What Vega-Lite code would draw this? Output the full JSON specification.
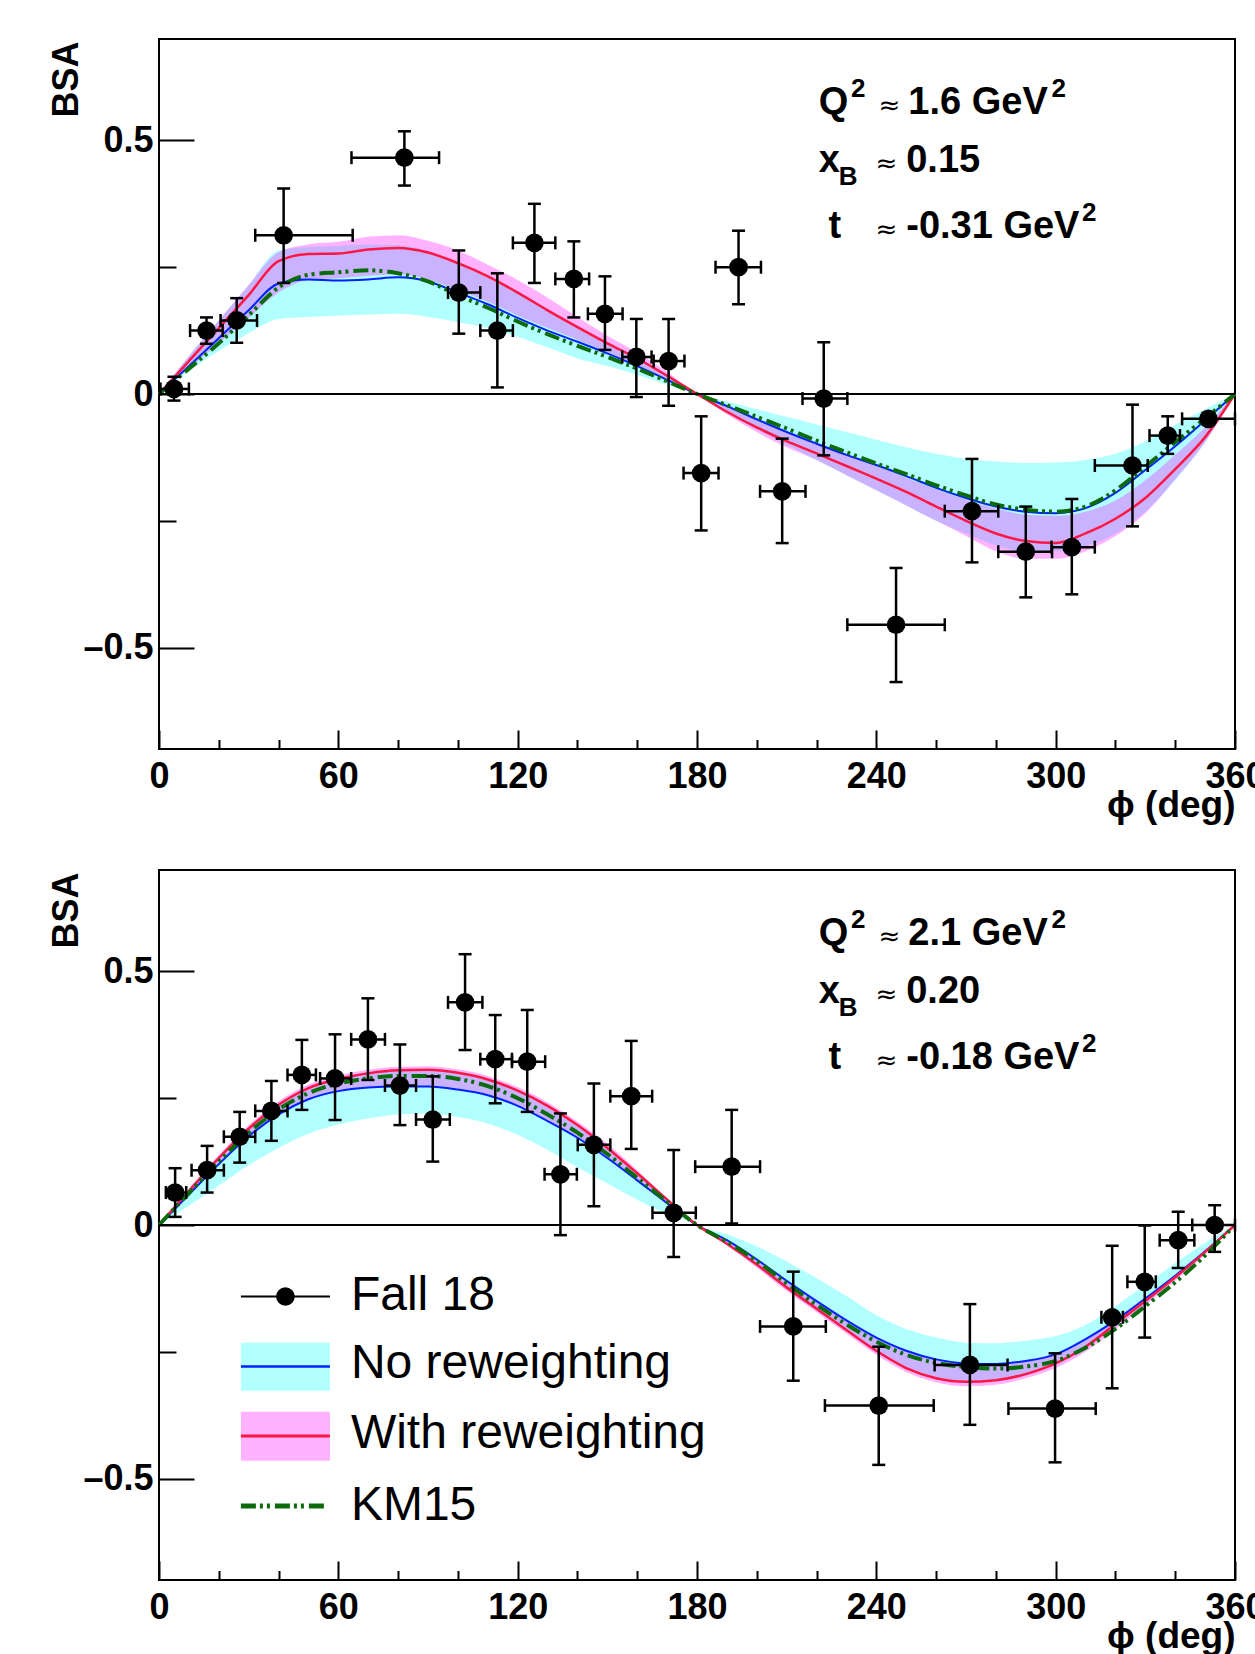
{
  "$schema": "https://vega.github.io/schema/vega-lite/v6.json",
  "background": "white",
  "padding": {"left": 47, "top": 38, "right": 5, "bottom": 5},
  "spacing": 121,
  "bounds": "flush",
  "config": {
    "view": {"stroke": "black", "strokeWidth": 2},
    "font": "Liberation Sans",
    "axis": {"grid": false, "domain": false}
  },
  "datasets": {
    "top_curves": [
      {"phi": 0, "blue": 0, "red": 0, "green": 0, "c_lo": 0, "c_hi": 0, "m_lo": 0, "m_hi": 0},
      {"phi": 10, "blue": 0.055, "red": 0.065, "green": 0.05, "c_lo": 0.045, "c_hi": 0.075, "m_lo": 0.05, "m_hi": 0.075},
      {"phi": 20, "blue": 0.11, "red": 0.13, "green": 0.1, "c_lo": 0.085, "c_hi": 0.145, "m_lo": 0.1, "m_hi": 0.145},
      {"phi": 30, "blue": 0.165, "red": 0.195, "green": 0.155, "c_lo": 0.12, "c_hi": 0.215, "m_lo": 0.15, "m_hi": 0.215},
      {"phi": 40, "blue": 0.218, "red": 0.262, "green": 0.21, "c_lo": 0.148, "c_hi": 0.283, "m_lo": 0.2, "m_hi": 0.28},
      {"phi": 50, "blue": 0.226, "red": 0.276, "green": 0.235, "c_lo": 0.152, "c_hi": 0.29, "m_lo": 0.225, "m_hi": 0.295},
      {"phi": 60, "blue": 0.224, "red": 0.277, "green": 0.24, "c_lo": 0.155, "c_hi": 0.292, "m_lo": 0.228, "m_hi": 0.3},
      {"phi": 70, "blue": 0.226, "red": 0.285, "green": 0.244, "c_lo": 0.157, "c_hi": 0.295, "m_lo": 0.233, "m_hi": 0.31},
      {"phi": 80, "blue": 0.23, "red": 0.288, "green": 0.238, "c_lo": 0.158, "c_hi": 0.294, "m_lo": 0.236, "m_hi": 0.313},
      {"phi": 90, "blue": 0.222, "red": 0.279, "green": 0.222, "c_lo": 0.152, "c_hi": 0.282, "m_lo": 0.226, "m_hi": 0.302},
      {"phi": 100, "blue": 0.2, "red": 0.258, "green": 0.195, "c_lo": 0.142, "c_hi": 0.26, "m_lo": 0.205, "m_hi": 0.283},
      {"phi": 110, "blue": 0.177, "red": 0.232, "green": 0.17, "c_lo": 0.13, "c_hi": 0.235, "m_lo": 0.182, "m_hi": 0.255},
      {"phi": 120, "blue": 0.15, "red": 0.2, "green": 0.143, "c_lo": 0.113, "c_hi": 0.203, "m_lo": 0.155, "m_hi": 0.225},
      {"phi": 130, "blue": 0.125, "red": 0.165, "green": 0.118, "c_lo": 0.092, "c_hi": 0.168, "m_lo": 0.13, "m_hi": 0.19},
      {"phi": 140, "blue": 0.103, "red": 0.132, "green": 0.095, "c_lo": 0.07, "c_hi": 0.135, "m_lo": 0.107, "m_hi": 0.152},
      {"phi": 150, "blue": 0.08, "red": 0.1, "green": 0.073, "c_lo": 0.055, "c_hi": 0.103, "m_lo": 0.083, "m_hi": 0.115},
      {"phi": 160, "blue": 0.055, "red": 0.07, "green": 0.05, "c_lo": 0.038, "c_hi": 0.073, "m_lo": 0.057, "m_hi": 0.082},
      {"phi": 170, "blue": 0.028, "red": 0.036, "green": 0.025, "c_lo": 0.018, "c_hi": 0.038, "m_lo": 0.029, "m_hi": 0.044},
      {"phi": 180, "blue": 0, "red": 0, "green": 0, "c_lo": 0, "c_hi": 0, "m_lo": 0, "m_hi": 0},
      {"phi": 190, "blue": -0.024, "red": -0.035, "green": -0.022, "c_lo": -0.037, "c_hi": -0.015, "m_lo": -0.04, "m_hi": -0.022},
      {"phi": 200, "blue": -0.05, "red": -0.066, "green": -0.045, "c_lo": -0.07, "c_hi": -0.03, "m_lo": -0.075, "m_hi": -0.047},
      {"phi": 210, "blue": -0.075, "red": -0.093, "green": -0.068, "c_lo": -0.1, "c_hi": -0.045, "m_lo": -0.105, "m_hi": -0.073},
      {"phi": 220, "blue": -0.098, "red": -0.117, "green": -0.092, "c_lo": -0.13, "c_hi": -0.06, "m_lo": -0.13, "m_hi": -0.096},
      {"phi": 230, "blue": -0.12, "red": -0.142, "green": -0.115, "c_lo": -0.16, "c_hi": -0.075, "m_lo": -0.16, "m_hi": -0.118},
      {"phi": 240, "blue": -0.14, "red": -0.167, "green": -0.137, "c_lo": -0.19, "c_hi": -0.09, "m_lo": -0.19, "m_hi": -0.142},
      {"phi": 250, "blue": -0.162, "red": -0.193, "green": -0.158, "c_lo": -0.22, "c_hi": -0.105, "m_lo": -0.22, "m_hi": -0.165},
      {"phi": 260, "blue": -0.185, "red": -0.222, "green": -0.18, "c_lo": -0.25, "c_hi": -0.118, "m_lo": -0.25, "m_hi": -0.188},
      {"phi": 270, "blue": -0.205, "red": -0.25, "green": -0.2, "c_lo": -0.275, "c_hi": -0.128, "m_lo": -0.28, "m_hi": -0.208},
      {"phi": 280, "blue": -0.222, "red": -0.275, "green": -0.218, "c_lo": -0.298, "c_hi": -0.133, "m_lo": -0.31, "m_hi": -0.226},
      {"phi": 290, "blue": -0.232, "red": -0.29, "green": -0.228, "c_lo": -0.31, "c_hi": -0.136, "m_lo": -0.325, "m_hi": -0.238},
      {"phi": 300, "blue": -0.235, "red": -0.294, "green": -0.232, "c_lo": -0.31, "c_hi": -0.135, "m_lo": -0.325, "m_hi": -0.24},
      {"phi": 310, "blue": -0.225, "red": -0.275, "green": -0.222, "c_lo": -0.3, "c_hi": -0.13, "m_lo": -0.31, "m_hi": -0.232},
      {"phi": 320, "blue": -0.195, "red": -0.246, "green": -0.19, "c_lo": -0.275, "c_hi": -0.118, "m_lo": -0.28, "m_hi": -0.21},
      {"phi": 330, "blue": -0.15, "red": -0.205, "green": -0.143, "c_lo": -0.232, "c_hi": -0.093, "m_lo": -0.235, "m_hi": -0.17},
      {"phi": 340, "blue": -0.103, "red": -0.148, "green": -0.095, "c_lo": -0.17, "c_hi": -0.06, "m_lo": -0.168, "m_hi": -0.12},
      {"phi": 350, "blue": -0.052, "red": -0.085, "green": -0.048, "c_lo": -0.095, "c_hi": -0.03, "m_lo": -0.095, "m_hi": -0.065},
      {"phi": 360, "blue": 0, "red": 0, "green": 0, "c_lo": 0, "c_hi": 0, "m_lo": 0, "m_hi": 0}
    ],
    "bot_curves": [
      {"phi": 0, "blue": 0, "red": 0, "green": 0, "c_lo": 0, "c_hi": 0, "m_lo": 0, "m_hi": 0},
      {"phi": 10, "blue": 0.06, "red": 0.067, "green": 0.063, "c_lo": 0.038, "c_hi": 0.068, "m_lo": 0.058, "m_hi": 0.072},
      {"phi": 20, "blue": 0.12, "red": 0.132, "green": 0.125, "c_lo": 0.078, "c_hi": 0.133, "m_lo": 0.118, "m_hi": 0.138},
      {"phi": 30, "blue": 0.175, "red": 0.19, "green": 0.182, "c_lo": 0.118, "c_hi": 0.192, "m_lo": 0.172, "m_hi": 0.197},
      {"phi": 40, "blue": 0.218, "red": 0.237, "green": 0.228, "c_lo": 0.152, "c_hi": 0.238, "m_lo": 0.215, "m_hi": 0.244},
      {"phi": 50, "blue": 0.248, "red": 0.27, "green": 0.26, "c_lo": 0.18, "c_hi": 0.27, "m_lo": 0.246, "m_hi": 0.277},
      {"phi": 60, "blue": 0.264, "red": 0.288, "green": 0.279, "c_lo": 0.198, "c_hi": 0.289, "m_lo": 0.263, "m_hi": 0.295},
      {"phi": 70, "blue": 0.271, "red": 0.299, "green": 0.289, "c_lo": 0.21, "c_hi": 0.3, "m_lo": 0.27, "m_hi": 0.306},
      {"phi": 80, "blue": 0.273, "red": 0.305, "green": 0.294, "c_lo": 0.218, "c_hi": 0.305, "m_lo": 0.273, "m_hi": 0.312},
      {"phi": 90, "blue": 0.273, "red": 0.306, "green": 0.294, "c_lo": 0.22, "c_hi": 0.306, "m_lo": 0.273, "m_hi": 0.313},
      {"phi": 100, "blue": 0.267, "red": 0.3, "green": 0.288, "c_lo": 0.213, "c_hi": 0.3, "m_lo": 0.267, "m_hi": 0.307},
      {"phi": 110, "blue": 0.256, "red": 0.287, "green": 0.274, "c_lo": 0.2, "c_hi": 0.287, "m_lo": 0.255, "m_hi": 0.294},
      {"phi": 120, "blue": 0.235, "red": 0.265, "green": 0.25, "c_lo": 0.178, "c_hi": 0.265, "m_lo": 0.234, "m_hi": 0.272},
      {"phi": 130, "blue": 0.205, "red": 0.235, "green": 0.218, "c_lo": 0.148, "c_hi": 0.235, "m_lo": 0.205, "m_hi": 0.242},
      {"phi": 140, "blue": 0.172, "red": 0.197, "green": 0.182, "c_lo": 0.114, "c_hi": 0.197, "m_lo": 0.172, "m_hi": 0.204},
      {"phi": 150, "blue": 0.132, "red": 0.152, "green": 0.14, "c_lo": 0.082, "c_hi": 0.152, "m_lo": 0.132, "m_hi": 0.16},
      {"phi": 160, "blue": 0.088, "red": 0.102, "green": 0.093, "c_lo": 0.05, "c_hi": 0.102, "m_lo": 0.088, "m_hi": 0.108},
      {"phi": 170, "blue": 0.043, "red": 0.05, "green": 0.046, "c_lo": 0.022, "c_hi": 0.05, "m_lo": 0.043, "m_hi": 0.053},
      {"phi": 180, "blue": 0, "red": 0, "green": 0, "c_lo": 0, "c_hi": 0, "m_lo": 0, "m_hi": 0},
      {"phi": 190, "blue": -0.03, "red": -0.037, "green": -0.033, "c_lo": -0.04, "c_hi": -0.018, "m_lo": -0.04, "m_hi": -0.03},
      {"phi": 200, "blue": -0.068, "red": -0.078, "green": -0.071, "c_lo": -0.082, "c_hi": -0.042, "m_lo": -0.084, "m_hi": -0.066},
      {"phi": 210, "blue": -0.11, "red": -0.123, "green": -0.115, "c_lo": -0.127, "c_hi": -0.072, "m_lo": -0.13, "m_hi": -0.108},
      {"phi": 220, "blue": -0.15, "red": -0.165, "green": -0.157, "c_lo": -0.168, "c_hi": -0.105, "m_lo": -0.172, "m_hi": -0.148},
      {"phi": 230, "blue": -0.188, "red": -0.207, "green": -0.196, "c_lo": -0.208, "c_hi": -0.14, "m_lo": -0.214, "m_hi": -0.186},
      {"phi": 240, "blue": -0.222, "red": -0.248, "green": -0.23, "c_lo": -0.25, "c_hi": -0.178, "m_lo": -0.256, "m_hi": -0.22},
      {"phi": 250, "blue": -0.248, "red": -0.282, "green": -0.256, "c_lo": -0.282, "c_hi": -0.205, "m_lo": -0.29, "m_hi": -0.246},
      {"phi": 260, "blue": -0.265, "red": -0.302, "green": -0.272, "c_lo": -0.302, "c_hi": -0.222, "m_lo": -0.31, "m_hi": -0.263},
      {"phi": 270, "blue": -0.273, "red": -0.309, "green": -0.28, "c_lo": -0.31, "c_hi": -0.232, "m_lo": -0.318, "m_hi": -0.271},
      {"phi": 280, "blue": -0.274, "red": -0.306, "green": -0.283, "c_lo": -0.306, "c_hi": -0.233, "m_lo": -0.315, "m_hi": -0.272},
      {"phi": 290, "blue": -0.268, "red": -0.294, "green": -0.279, "c_lo": -0.294, "c_hi": -0.228, "m_lo": -0.302, "m_hi": -0.266},
      {"phi": 300, "blue": -0.255, "red": -0.273, "green": -0.268, "c_lo": -0.275, "c_hi": -0.219, "m_lo": -0.282, "m_hi": -0.253},
      {"phi": 310, "blue": -0.225, "red": -0.24, "green": -0.242, "c_lo": -0.243, "c_hi": -0.197, "m_lo": -0.25, "m_hi": -0.224},
      {"phi": 320, "blue": -0.188, "red": -0.195, "green": -0.205, "c_lo": -0.2, "c_hi": -0.16, "m_lo": -0.205, "m_hi": -0.186},
      {"phi": 330, "blue": -0.145, "red": -0.15, "green": -0.16, "c_lo": -0.155, "c_hi": -0.118, "m_lo": -0.158, "m_hi": -0.143},
      {"phi": 340, "blue": -0.1, "red": -0.103, "green": -0.113, "c_lo": -0.107, "c_hi": -0.075, "m_lo": -0.11, "m_hi": -0.098},
      {"phi": 350, "blue": -0.052, "red": -0.053, "green": -0.06, "c_lo": -0.056, "c_hi": -0.035, "m_lo": -0.058, "m_hi": -0.05},
      {"phi": 360, "blue": 0, "red": 0, "green": 0, "c_lo": 0, "c_hi": 0, "m_lo": 0, "m_hi": 0}
    ],
    "top_pts": [
      {"phi": 5.0, "bsa": 0.01, "ylo": -0.013, "yhi": 0.034, "xlo": 0.5, "xhi": 10.0},
      {"phi": 15.9, "bsa": 0.125, "ylo": 0.099, "yhi": 0.151, "xlo": 10.4, "xhi": 21.3},
      {"phi": 26.0, "bsa": 0.145, "ylo": 0.101, "yhi": 0.189, "xlo": 20.6, "xhi": 32.8},
      {"phi": 41.7, "bsa": 0.313, "ylo": 0.219, "yhi": 0.405, "xlo": 32.2, "xhi": 64.8},
      {"phi": 82.1, "bsa": 0.466, "ylo": 0.411, "yhi": 0.518, "xlo": 64.4, "xhi": 93.7},
      {"phi": 100.3, "bsa": 0.2, "ylo": 0.119, "yhi": 0.283, "xlo": 96.7, "xhi": 107.5},
      {"phi": 113.2, "bsa": 0.125, "ylo": 0.013, "yhi": 0.238, "xlo": 107.5, "xhi": 118.4},
      {"phi": 125.6, "bsa": 0.298, "ylo": 0.219, "yhi": 0.375, "xlo": 118.4, "xhi": 132.6},
      {"phi": 138.8, "bsa": 0.227, "ylo": 0.151, "yhi": 0.301, "xlo": 132.6, "xhi": 143.9},
      {"phi": 149.2, "bsa": 0.158, "ylo": 0.087, "yhi": 0.232, "xlo": 143.5, "xhi": 155.1},
      {"phi": 159.7, "bsa": 0.073, "ylo": -0.006, "yhi": 0.148, "xlo": 155.0, "xhi": 164.8},
      {"phi": 170.5, "bsa": 0.065, "ylo": -0.023, "yhi": 0.148, "xlo": 165.5, "xhi": 175.8},
      {"phi": 181.4, "bsa": -0.156, "ylo": -0.269, "yhi": -0.044, "xlo": 175.5, "xhi": 187.2},
      {"phi": 193.9, "bsa": 0.25, "ylo": 0.177, "yhi": 0.322, "xlo": 186.2, "xhi": 201.4},
      {"phi": 208.5, "bsa": -0.192, "ylo": -0.294, "yhi": -0.088, "xlo": 201.1, "xhi": 216.3},
      {"phi": 222.4, "bsa": -0.009, "ylo": -0.121, "yhi": 0.102, "xlo": 215.3, "xhi": 230.3},
      {"phi": 246.6, "bsa": -0.455, "ylo": -0.568, "yhi": -0.343, "xlo": 230.3, "xhi": 262.9},
      {"phi": 272.0, "bsa": -0.231, "ylo": -0.332, "yhi": -0.128, "xlo": 262.9, "xhi": 280.8},
      {"phi": 290.0, "bsa": -0.311, "ylo": -0.401, "yhi": -0.222, "xlo": 280.8, "xhi": 298.8},
      {"phi": 305.4, "bsa": -0.302, "ylo": -0.395, "yhi": -0.207, "xlo": 298.6, "xhi": 313.1},
      {"phi": 325.7, "bsa": -0.141, "ylo": -0.261, "yhi": -0.021, "xlo": 313.1, "xhi": 330.8},
      {"phi": 337.5, "bsa": -0.082, "ylo": -0.118, "yhi": -0.044, "xlo": 331.4, "xhi": 341.6},
      {"phi": 351.1, "bsa": -0.049, "ylo": -0.061, "yhi": -0.037, "xlo": 342.3, "xhi": 360}
    ],
    "bot_pts": [
      {"phi": 5.4, "bsa": 0.064, "ylo": 0.016, "yhi": 0.112, "xlo": 2.3, "xhi": 9.1},
      {"phi": 16.1, "bsa": 0.108, "ylo": 0.064, "yhi": 0.156, "xlo": 10.9, "xhi": 21.7},
      {"phi": 27.0, "bsa": 0.174, "ylo": 0.123, "yhi": 0.223, "xlo": 21.7, "xhi": 32.2},
      {"phi": 37.6, "bsa": 0.225, "ylo": 0.166, "yhi": 0.284, "xlo": 32.2, "xhi": 43.0},
      {"phi": 47.8, "bsa": 0.296, "ylo": 0.227, "yhi": 0.365, "xlo": 43.0, "xhi": 52.5},
      {"phi": 58.9, "bsa": 0.289, "ylo": 0.207, "yhi": 0.376, "xlo": 53.9, "xhi": 64.3},
      {"phi": 69.9, "bsa": 0.366, "ylo": 0.286, "yhi": 0.447, "xlo": 64.3, "xhi": 75.6},
      {"phi": 80.6, "bsa": 0.275, "ylo": 0.197, "yhi": 0.356, "xlo": 75.6, "xhi": 86.0},
      {"phi": 91.6, "bsa": 0.208, "ylo": 0.125, "yhi": 0.293, "xlo": 86.0, "xhi": 97.3},
      {"phi": 102.4, "bsa": 0.439, "ylo": 0.345, "yhi": 0.534, "xlo": 96.7, "xhi": 108.2},
      {"phi": 112.5, "bsa": 0.327, "ylo": 0.24, "yhi": 0.414, "xlo": 107.5, "xhi": 118.1},
      {"phi": 123.2, "bsa": 0.322, "ylo": 0.223, "yhi": 0.424, "xlo": 118.1, "xhi": 129.2},
      {"phi": 134.3, "bsa": 0.1, "ylo": -0.02, "yhi": 0.22, "xlo": 129.0, "xhi": 139.8},
      {"phi": 145.5, "bsa": 0.158, "ylo": 0.037, "yhi": 0.279, "xlo": 140.1, "xhi": 151.0},
      {"phi": 158.0, "bsa": 0.254, "ylo": 0.15, "yhi": 0.363, "xlo": 151.0, "xhi": 165.0},
      {"phi": 172.2, "bsa": 0.024, "ylo": -0.063, "yhi": 0.148, "xlo": 165.1, "xhi": 179.6},
      {"phi": 191.6, "bsa": 0.115, "ylo": 0.003, "yhi": 0.227, "xlo": 179.4, "xhi": 201.1},
      {"phi": 212.2, "bsa": -0.2, "ylo": -0.307, "yhi": -0.092, "xlo": 201.1, "xhi": 223.1},
      {"phi": 240.8, "bsa": -0.356, "ylo": -0.473, "yhi": -0.24, "xlo": 222.8, "xhi": 259.2},
      {"phi": 271.3, "bsa": -0.276, "ylo": -0.394, "yhi": -0.156, "xlo": 259.5, "xhi": 283.9},
      {"phi": 299.8, "bsa": -0.362, "ylo": -0.468, "yhi": -0.253, "xlo": 284.2, "xhi": 313.4},
      {"phi": 318.9, "bsa": -0.182, "ylo": -0.322, "yhi": -0.041, "xlo": 315.3, "xhi": 322.5},
      {"phi": 329.8, "bsa": -0.112, "ylo": -0.222, "yhi": -0.001, "xlo": 324.0, "xhi": 333.5},
      {"phi": 341.0, "bsa": -0.03, "ylo": -0.085, "yhi": 0.026, "xlo": 334.8, "xhi": 346.4},
      {"phi": 353.2, "bsa": 0.0, "ylo": -0.053, "yhi": 0.039, "xlo": 345.7, "xhi": 360}
    ],
    "top_notes": [
      {"phi": 220.7, "bsa": 0.553, "txt": "Q", "role": "main"},
      {"phi": 250.7, "bsa": 0.553, "txt": "1.6 GeV", "role": "main"},
      {"phi": 220.7, "bsa": 0.437, "txt": "x", "role": "main"},
      {"phi": 250.0, "bsa": 0.437, "txt": "0.15", "role": "main"},
      {"phi": 224.0, "bsa": 0.307, "txt": "t", "role": "main"},
      {"phi": 250.0, "bsa": 0.307, "txt": "-0.31 GeV", "role": "main"},
      {"phi": 244.4, "bsa": 0.553, "txt": "≈", "role": "approx"},
      {"phi": 243.4, "bsa": 0.437, "txt": "≈", "role": "approx"},
      {"phi": 243.4, "bsa": 0.307, "txt": "≈", "role": "approx"},
      {"phi": 227.4, "bsa": 0.413, "txt": "B", "role": "sub"},
      {"phi": 231.5, "bsa": 0.585, "txt": "2", "role": "sub"},
      {"phi": 298.6, "bsa": 0.585, "txt": "2", "role": "sub"},
      {"phi": 308.8, "bsa": 0.342, "txt": "2", "role": "sub"}
    ],
    "bot_notes": [
      {"phi": 220.7, "bsa": 0.553, "txt": "Q", "role": "main"},
      {"phi": 250.7, "bsa": 0.553, "txt": "2.1 GeV", "role": "main"},
      {"phi": 220.7, "bsa": 0.437, "txt": "x", "role": "main"},
      {"phi": 250.0, "bsa": 0.437, "txt": "0.20", "role": "main"},
      {"phi": 224.0, "bsa": 0.307, "txt": "t", "role": "main"},
      {"phi": 250.0, "bsa": 0.307, "txt": "-0.18 GeV", "role": "main"},
      {"phi": 244.4, "bsa": 0.553, "txt": "≈", "role": "approx"},
      {"phi": 243.4, "bsa": 0.437, "txt": "≈", "role": "approx"},
      {"phi": 243.4, "bsa": 0.307, "txt": "≈", "role": "approx"},
      {"phi": 227.4, "bsa": 0.413, "txt": "B", "role": "sub"},
      {"phi": 231.5, "bsa": 0.585, "txt": "2", "role": "sub"},
      {"phi": 298.6, "bsa": 0.585, "txt": "2", "role": "sub"},
      {"phi": 308.8, "bsa": 0.342, "txt": "2", "role": "sub"}
    ],
    "legend": [
      {"label": "Fall 18", "x0": 27.4, "x1": 57.2, "xm": 42.3, "yline": -0.141, "ytext": -0.168},
      {"label": "No reweighting", "x0": 27.4, "x1": 57.2, "xm": 42.3, "yline": -0.279, "ylo": -0.327, "yhi": -0.232, "ytext": -0.302},
      {"label": "With reweighting", "x0": 27.4, "x1": 57.2, "xm": 42.3, "yline": -0.416, "ylo": -0.465, "yhi": -0.368, "ytext": -0.44},
      {"label": "KM15", "x0": 27.4, "x1": 56.2, "xm": 42.3, "yline": -0.554, "ytext": -0.582}
    ]
  },
  "vconcat": [
    {
      "width": 1076,
      "height": 710,
      "layer": [
        {"data": {"name": "top_curves"}, "mark": {"type": "area", "color": "#00ffff", "opacity": 0.3, "interpolate": "monotone"},
         "encoding": {
           "x": {"field": "phi", "type": "quantitative", "scale": {"domain": [0, 360], "nice": false, "zero": false},
             "axis": {"values": [0, 20, 40, 60, 80, 100, 120, 140, 160, 180, 200, 220, 240, 260, 280, 300, 320, 340, 360],
               "labelExpr": "datum.value % 60 === 0 ? datum.label : ''", "labelFlush": false, "labelOverlap": false,
               "labelFont": "Liberation Sans", "labelFontWeight": "bold", "labelFontSize": 36, "labelColor": "black",
               "labelBaseline": "top", "labelPadding": 29,
               "tickSize": {"condition": {"test": "datum.value % 60 === 0", "value": -19}, "value": -9.5},
               "tickWidth": 2, "tickColor": "black",
               "domain": false, "grid": false, "title": "ϕ (deg)", "titleFont": "Liberation Sans", "titleFontWeight": "bold",
               "titleFontSize": 37, "titleColor": "black", "titleAnchor": "end", "titleAlign": "right", "titleBaseline": "alphabetic",
               "titleX": 1076, "titleY": 67, "titleAngle": 0, "zindex": 1}},
           "y": {"field": "c_lo", "type": "quantitative", "scale": {"domain": [-0.7, 0.7], "nice": false, "zero": false},
             "axis": {"values": [-0.5, -0.25, 0, 0.25, 0.5],
               "labelExpr": "datum.value === 0.5 ? '0.5' : datum.value === 0 ? '0' : datum.value === -0.5 ? '–0.5' : ''",
               "labelFlush": false, "labelOverlap": false, "labelFont": "Liberation Sans", "labelFontWeight": "bold",
               "labelFontSize": 36, "labelColor": "black", "labelPadding": 41, "labelAlign": "right", "labelBaseline": "middle",
               "tickSize": {"condition": {"test": "abs(datum.value) === 0.25", "value": -17}, "value": -35},
               "tickWidth": 2, "tickColor": "black", "domain": false, "grid": false,
               "title": "BSA", "titleFont": "Liberation Sans", "titleFontWeight": "bold", "titleFontSize": 36, "titleColor": "black",
               "titleAngle": 270, "titleAlign": "right", "titleBaseline": "middle", "titleX": -93, "titleY": 2, "zindex": 1}},
           "y2": {"field": "c_hi"}
         }},
        {"data": {"name": "top_curves"}, "mark": {"type": "area", "color": "#ff00ff", "opacity": 0.3, "interpolate": "monotone"},
         "encoding": {"x": {"field": "phi", "type": "quantitative"}, "y": {"field": "m_lo", "type": "quantitative"}, "y2": {"field": "m_hi"}}},
        {"data": {"name": "top_curves"}, "mark": {"type": "line", "color": "#0022ff", "strokeWidth": 2, "interpolate": "monotone"},
         "encoding": {"x": {"field": "phi", "type": "quantitative"}, "y": {"field": "blue", "type": "quantitative"}}},
        {"data": {"name": "top_curves"}, "mark": {"type": "line", "color": "#ff1744", "strokeWidth": 2.5, "interpolate": "monotone"},
         "encoding": {"x": {"field": "phi", "type": "quantitative"}, "y": {"field": "red", "type": "quantitative"}}},
        {"data": {"name": "top_curves"}, "mark": {"type": "line", "color": "#0b6b0b", "strokeWidth": 4, "strokeDash": [15, 4, 3, 4, 3, 5], "interpolate": "monotone"},
         "encoding": {"x": {"field": "phi", "type": "quantitative"}, "y": {"field": "green", "type": "quantitative"}}},
        {"data": {"values": [{}]}, "mark": {"type": "rule", "color": "black", "strokeWidth": 2},
         "encoding": {"y": {"datum": 0, "type": "quantitative"}}},
        {"data": {"name": "top_pts"}, "mark": {"type": "rule", "color": "black", "strokeWidth": 2.5},
         "encoding": {"x": {"field": "phi", "type": "quantitative"}, "y": {"field": "ylo", "type": "quantitative"}, "y2": {"field": "yhi"}}},
        {"data": {"name": "top_pts"}, "mark": {"type": "rule", "color": "black", "strokeWidth": 2.5},
         "encoding": {"x": {"field": "xlo", "type": "quantitative"}, "x2": {"field": "xhi"}, "y": {"field": "bsa", "type": "quantitative"}}},
        {"data": {"name": "top_pts"}, "mark": {"type": "tick", "orient": "horizontal", "color": "black", "thickness": 2.5, "size": 13, "opacity": 1},
         "encoding": {"x": {"field": "phi", "type": "quantitative"}, "y": {"field": "ylo", "type": "quantitative"}}},
        {"data": {"name": "top_pts"}, "mark": {"type": "tick", "orient": "horizontal", "color": "black", "thickness": 2.5, "size": 13, "opacity": 1},
         "encoding": {"x": {"field": "phi", "type": "quantitative"}, "y": {"field": "yhi", "type": "quantitative"}}},
        {"data": {"name": "top_pts"}, "mark": {"type": "tick", "orient": "vertical", "color": "black", "thickness": 2.5, "size": 13, "opacity": 1},
         "encoding": {"x": {"field": "xlo", "type": "quantitative"}, "y": {"field": "bsa", "type": "quantitative"}}},
        {"data": {"name": "top_pts"}, "mark": {"type": "tick", "orient": "vertical", "color": "black", "thickness": 2.5, "size": 13, "opacity": 1},
         "encoding": {"x": {"field": "xhi", "type": "quantitative"}, "y": {"field": "bsa", "type": "quantitative"}}},
        {"data": {"name": "top_pts"}, "mark": {"type": "circle", "color": "black", "opacity": 1, "size": 350},
         "encoding": {"x": {"field": "phi", "type": "quantitative"}, "y": {"field": "bsa", "type": "quantitative"}}},
        {"data": {"name": "top_notes"}, "transform": [{"filter": "datum.role === 'main'"}],
         "mark": {"type": "text", "align": "left", "baseline": "alphabetic", "font": "Liberation Sans", "fontWeight": "bold", "fontSize": 38, "color": "black"},
         "encoding": {"x": {"field": "phi", "type": "quantitative"}, "y": {"field": "bsa", "type": "quantitative"}, "text": {"field": "txt"}}},
        {"data": {"name": "top_notes"}, "transform": [{"filter": "datum.role === 'approx'"}],
         "mark": {"type": "text", "align": "center", "baseline": "alphabetic", "font": "DejaVu Sans", "fontSize": 26, "color": "black"},
         "encoding": {"x": {"field": "phi", "type": "quantitative"}, "y": {"field": "bsa", "type": "quantitative"}, "text": {"field": "txt"}}},
        {"data": {"name": "top_notes"}, "transform": [{"filter": "datum.role === 'sub'"}],
         "mark": {"type": "text", "align": "left", "baseline": "alphabetic", "font": "Liberation Sans", "fontWeight": "bold", "fontSize": 26, "color": "black"},
         "encoding": {"x": {"field": "phi", "type": "quantitative"}, "y": {"field": "bsa", "type": "quantitative"}, "text": {"field": "txt"}}}
      ]
    },
    {
      "width": 1076,
      "height": 710,
      "layer": [
        {"data": {"name": "bot_curves"}, "mark": {"type": "area", "color": "#00ffff", "opacity": 0.3, "interpolate": "monotone"},
         "encoding": {
           "x": {"field": "phi", "type": "quantitative", "scale": {"domain": [0, 360], "nice": false, "zero": false},
             "axis": {"values": [0, 20, 40, 60, 80, 100, 120, 140, 160, 180, 200, 220, 240, 260, 280, 300, 320, 340, 360],
               "labelExpr": "datum.value % 60 === 0 ? datum.label : ''", "labelFlush": false, "labelOverlap": false,
               "labelFont": "Liberation Sans", "labelFontWeight": "bold", "labelFontSize": 36, "labelColor": "black",
               "labelBaseline": "top", "labelPadding": 29,
               "tickSize": {"condition": {"test": "datum.value % 60 === 0", "value": -19}, "value": -9.5},
               "tickWidth": 2, "tickColor": "black",
               "domain": false, "grid": false, "title": "ϕ (deg)", "titleFont": "Liberation Sans", "titleFontWeight": "bold",
               "titleFontSize": 37, "titleColor": "black", "titleAnchor": "end", "titleAlign": "right", "titleBaseline": "alphabetic",
               "titleX": 1076, "titleY": 67, "titleAngle": 0, "zindex": 1}},
           "y": {"field": "c_lo", "type": "quantitative", "scale": {"domain": [-0.7, 0.7], "nice": false, "zero": false},
             "axis": {"values": [-0.5, -0.25, 0, 0.25, 0.5],
               "labelExpr": "datum.value === 0.5 ? '0.5' : datum.value === 0 ? '0' : datum.value === -0.5 ? '–0.5' : ''",
               "labelFlush": false, "labelOverlap": false, "labelFont": "Liberation Sans", "labelFontWeight": "bold",
               "labelFontSize": 36, "labelColor": "black", "labelPadding": 41, "labelAlign": "right", "labelBaseline": "middle",
               "tickSize": {"condition": {"test": "abs(datum.value) === 0.25", "value": -17}, "value": -35},
               "tickWidth": 2, "tickColor": "black", "domain": false, "grid": false,
               "title": "BSA", "titleFont": "Liberation Sans", "titleFontWeight": "bold", "titleFontSize": 36, "titleColor": "black",
               "titleAngle": 270, "titleAlign": "right", "titleBaseline": "middle", "titleX": -93, "titleY": 2, "zindex": 1}},
           "y2": {"field": "c_hi"}
         }},
        {"data": {"name": "bot_curves"}, "mark": {"type": "area", "color": "#ff00ff", "opacity": 0.3, "interpolate": "monotone"},
         "encoding": {"x": {"field": "phi", "type": "quantitative"}, "y": {"field": "m_lo", "type": "quantitative"}, "y2": {"field": "m_hi"}}},
        {"data": {"name": "bot_curves"}, "mark": {"type": "line", "color": "#0022ff", "strokeWidth": 2, "interpolate": "monotone"},
         "encoding": {"x": {"field": "phi", "type": "quantitative"}, "y": {"field": "blue", "type": "quantitative"}}},
        {"data": {"name": "bot_curves"}, "mark": {"type": "line", "color": "#ff1744", "strokeWidth": 2.5, "interpolate": "monotone"},
         "encoding": {"x": {"field": "phi", "type": "quantitative"}, "y": {"field": "red", "type": "quantitative"}}},
        {"data": {"name": "bot_curves"}, "mark": {"type": "line", "color": "#0b6b0b", "strokeWidth": 4, "strokeDash": [15, 4, 3, 4, 3, 5], "interpolate": "monotone"},
         "encoding": {"x": {"field": "phi", "type": "quantitative"}, "y": {"field": "green", "type": "quantitative"}}},
        {"data": {"values": [{}]}, "mark": {"type": "rule", "color": "black", "strokeWidth": 2},
         "encoding": {"y": {"datum": 0, "type": "quantitative"}}},
        {"data": {"name": "bot_pts"}, "mark": {"type": "rule", "color": "black", "strokeWidth": 2.5},
         "encoding": {"x": {"field": "phi", "type": "quantitative"}, "y": {"field": "ylo", "type": "quantitative"}, "y2": {"field": "yhi"}}},
        {"data": {"name": "bot_pts"}, "mark": {"type": "rule", "color": "black", "strokeWidth": 2.5},
         "encoding": {"x": {"field": "xlo", "type": "quantitative"}, "x2": {"field": "xhi"}, "y": {"field": "bsa", "type": "quantitative"}}},
        {"data": {"name": "bot_pts"}, "mark": {"type": "tick", "orient": "horizontal", "color": "black", "thickness": 2.5, "size": 13, "opacity": 1},
         "encoding": {"x": {"field": "phi", "type": "quantitative"}, "y": {"field": "ylo", "type": "quantitative"}}},
        {"data": {"name": "bot_pts"}, "mark": {"type": "tick", "orient": "horizontal", "color": "black", "thickness": 2.5, "size": 13, "opacity": 1},
         "encoding": {"x": {"field": "phi", "type": "quantitative"}, "y": {"field": "yhi", "type": "quantitative"}}},
        {"data": {"name": "bot_pts"}, "mark": {"type": "tick", "orient": "vertical", "color": "black", "thickness": 2.5, "size": 13, "opacity": 1},
         "encoding": {"x": {"field": "xlo", "type": "quantitative"}, "y": {"field": "bsa", "type": "quantitative"}}},
        {"data": {"name": "bot_pts"}, "mark": {"type": "tick", "orient": "vertical", "color": "black", "thickness": 2.5, "size": 13, "opacity": 1},
         "encoding": {"x": {"field": "xhi", "type": "quantitative"}, "y": {"field": "bsa", "type": "quantitative"}}},
        {"data": {"name": "bot_pts"}, "mark": {"type": "circle", "color": "black", "opacity": 1, "size": 350},
         "encoding": {"x": {"field": "phi", "type": "quantitative"}, "y": {"field": "bsa", "type": "quantitative"}}},
        {"data": {"name": "bot_notes"}, "transform": [{"filter": "datum.role === 'main'"}],
         "mark": {"type": "text", "align": "left", "baseline": "alphabetic", "font": "Liberation Sans", "fontWeight": "bold", "fontSize": 38, "color": "black"},
         "encoding": {"x": {"field": "phi", "type": "quantitative"}, "y": {"field": "bsa", "type": "quantitative"}, "text": {"field": "txt"}}},
        {"data": {"name": "bot_notes"}, "transform": [{"filter": "datum.role === 'approx'"}],
         "mark": {"type": "text", "align": "center", "baseline": "alphabetic", "font": "DejaVu Sans", "fontSize": 26, "color": "black"},
         "encoding": {"x": {"field": "phi", "type": "quantitative"}, "y": {"field": "bsa", "type": "quantitative"}, "text": {"field": "txt"}}},
        {"data": {"name": "bot_notes"}, "transform": [{"filter": "datum.role === 'sub'"}],
         "mark": {"type": "text", "align": "left", "baseline": "alphabetic", "font": "Liberation Sans", "fontWeight": "bold", "fontSize": 26, "color": "black"},
         "encoding": {"x": {"field": "phi", "type": "quantitative"}, "y": {"field": "bsa", "type": "quantitative"}, "text": {"field": "txt"}}},
        {"data": {"name": "legend"}, "transform": [{"filter": "datum.label === 'No reweighting'"}],
         "mark": {"type": "rect", "color": "#00ffff", "opacity": 0.3},
         "encoding": {"x": {"field": "x0", "type": "quantitative"}, "x2": {"field": "x1"}, "y": {"field": "ylo", "type": "quantitative"}, "y2": {"field": "yhi"}}},
        {"data": {"name": "legend"}, "transform": [{"filter": "datum.label === 'With reweighting'"}],
         "mark": {"type": "rect", "color": "#ff00ff", "opacity": 0.3},
         "encoding": {"x": {"field": "x0", "type": "quantitative"}, "x2": {"field": "x1"}, "y": {"field": "ylo", "type": "quantitative"}, "y2": {"field": "yhi"}}},
        {"data": {"name": "legend"}, "transform": [{"filter": "datum.label === 'Fall 18'"}],
         "mark": {"type": "rule", "color": "black", "strokeWidth": 2},
         "encoding": {"x": {"field": "x0", "type": "quantitative"}, "x2": {"field": "x1"}, "y": {"field": "yline", "type": "quantitative"}}},
        {"data": {"name": "legend"}, "transform": [{"filter": "datum.label === 'Fall 18'"}],
         "mark": {"type": "circle", "color": "black", "opacity": 1, "size": 350},
         "encoding": {"x": {"field": "xm", "type": "quantitative"}, "y": {"field": "yline", "type": "quantitative"}}},
        {"data": {"name": "legend"}, "transform": [{"filter": "datum.label === 'No reweighting'"}],
         "mark": {"type": "rule", "color": "#0022ff", "strokeWidth": 2.5},
         "encoding": {"x": {"field": "x0", "type": "quantitative"}, "x2": {"field": "x1"}, "y": {"field": "yline", "type": "quantitative"}}},
        {"data": {"name": "legend"}, "transform": [{"filter": "datum.label === 'With reweighting'"}],
         "mark": {"type": "rule", "color": "#ff1744", "strokeWidth": 3},
         "encoding": {"x": {"field": "x0", "type": "quantitative"}, "x2": {"field": "x1"}, "y": {"field": "yline", "type": "quantitative"}}},
        {"data": {"name": "legend"}, "transform": [{"filter": "datum.label === 'KM15'"}],
         "mark": {"type": "rule", "color": "#0b6b0b", "strokeWidth": 5, "strokeDash": [15, 4, 3, 4, 3, 5]},
         "encoding": {"x": {"field": "x0", "type": "quantitative"}, "x2": {"field": "x1"}, "y": {"field": "yline", "type": "quantitative"}}},
        {"data": {"name": "legend"},
         "mark": {"type": "text", "align": "left", "baseline": "alphabetic", "font": "Liberation Sans", "fontSize": 48, "color": "black"},
         "encoding": {"x": {"datum": 64.2, "type": "quantitative"}, "y": {"field": "ytext", "type": "quantitative"}, "text": {"field": "label"}}}
      ]
    }
  ]
}
